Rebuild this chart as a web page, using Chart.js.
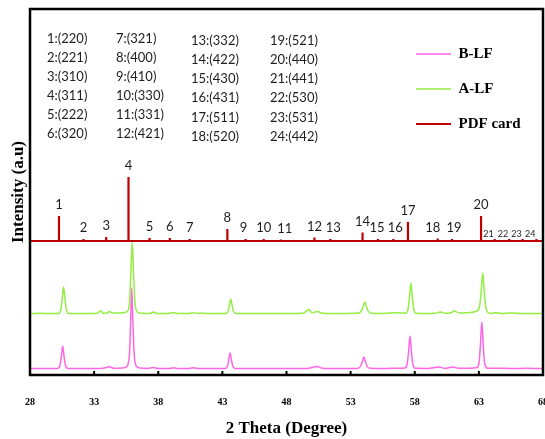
<!DOCTYPE html>
<html>
<head>
<meta charset="utf-8">
<title>XRD patterns</title>
<script src="https://cdn.jsdelivr.net/npm/chart.js@4.4.1/dist/chart.umd.min.js"></script>
<style>
  html, body { margin: 0; padding: 0; background: #fff; }
  #wrap { width: 545px; height: 439px; }
</style>
</head>
<body>
<div id="wrap"><canvas id="xrdChart" width="545" height="439"></canvas></div>
<script>
// 2 theta axis
const xTicks = [28, 33, 38, 43, 48, 53, 58, 63, 68];

// reference card lines
const pdfTheta = [30.26, 32.17, 33.94, 35.68, 37.32, 38.90, 40.45, 43.39, 44.81, 46.22, 47.56, 50.18,
                  51.42, 53.93, 55.13, 56.33, 57.47, 59.79, 60.90, 63.17, 64.23, 65.37, 66.41, 67.49];
const pdfInt = [25, 2, 4, 64, 3, 3, 2, 12, 2, 2, 1.5, 3.5, 2, 8.5, 2, 2, 19, 2.5, 2, 25, 2, 2, 2, 2];
const pdfHkl = ['220', '221', '310', '311', '222', '320', '321', '400', '410', '330', '331', '421',
                '332', '422', '430', '431', '511', '520', '521', '440', '441', '530', '531', '442'];

// A-LF pattern
const aTheta = [28.0, 28.8, 29.5, 30.22, 30.40, 30.52, 30.62, 30.72, 30.84, 31.02, 31.7, 32.6,
                33.25, 33.5, 33.72, 33.98, 34.2, 34.42, 35.0, 35.35, 35.58, 35.76, 35.87, 35.97,
                36.07, 36.18, 36.38, 36.7, 37.35, 37.62, 37.9, 38.8, 39.18, 39.5, 40.4, 40.8,
                41.05, 41.4, 41.8, 42.6, 43.27, 43.44, 43.55, 43.65, 43.75, 43.87, 44.05, 45.0,
                46.4, 47.8, 49.3, 49.75, 49.98, 50.4, 50.8, 52.0, 53.2, 53.65, 53.85, 54.0,
                54.1, 54.22, 54.36, 54.6, 55.5, 56.5, 56.9, 57.28, 57.48, 57.6, 57.7, 57.8,
                57.92, 58.12, 58.8, 59.6, 60.0, 60.4, 60.75, 61.1, 61.45, 62.0, 62.5, 62.8,
                63.0, 63.12, 63.2, 63.3, 63.4, 63.5, 63.7, 63.95, 64.3, 64.7, 65.5, 66.5,
                67.4, 68.0];
const aInt = [0.5, 0.8, 0.4, 0.6, 4, 16, 27, 16, 4, 0.6, 0.5, 0.4,
              0.7, 3.3, 0.8, 0.9, 2.5, 0.9, 1, 1.5, 2.5, 12, 42, 72,
              42, 12, 2, 0.8, 0.5, 2, 0.5, 0.4, 1.6, 0.5, 0.6, 1.2,
              0.6, 1.1, 0.5, 0.5, 0.6, 2.5, 9, 15, 9, 2.5, 0.6, 0.6,
              0.4, 0.5, 0.7, 4.5, 1.3, 2.5, 0.8, 0.5, 0.7, 1, 3.5, 8,
              12, 8, 3, 0.8, 0.6, 1.3, 1, 0.8, 5, 18, 31, 18,
              5, 0.8, 0.6, 0.8, 2, 0.8, 1, 3, 1, 1.2, 1.8, 2.8,
              5, 14, 26, 41, 26, 10, 1.5, 0.6, 1.2, 0.6, 1, 0.4,
              0.6, 0.5];

// B-LF pattern
const bTheta = [28.0, 29.2, 30.0, 30.17, 30.34, 30.45, 30.55, 30.65, 30.77, 30.95, 31.8, 33.0,
                33.7, 34.2, 34.5, 35.2, 35.5, 35.65, 35.76, 35.85, 35.93, 36.02, 36.12, 36.28,
                36.6, 37.2, 37.6, 38.0, 38.8, 39.2, 39.6, 40.3, 40.7, 41.2, 42.6, 43.22,
                43.39, 43.5, 43.6, 43.7, 43.82, 44.0, 45.5, 47.0, 48.5, 49.6, 50.4, 50.8,
                52.0, 53.3, 53.6, 53.78, 53.93, 54.03, 54.14, 54.28, 54.5, 55.8, 56.5, 57.0,
                57.22, 57.41, 57.53, 57.63, 57.73, 57.85, 58.05, 59.0, 59.9, 60.3, 61.0, 61.4,
                62.3, 62.8, 63.0, 63.13, 63.23, 63.33, 63.46, 63.7, 64.5, 65.5, 66.7, 68.0];
const bInt = [0.5, 0.6, 0.4, 0.6, 3.5, 13, 23, 13, 3.5, 0.6, 0.5, 0.6,
              0.8, 2.2, 0.8, 1, 2, 5, 16, 48, 81, 48, 16, 3,
              1, 0.6, 1.5, 0.5, 0.5, 1.2, 0.5, 0.5, 1.2, 0.5, 0.6, 0.6,
              2.5, 9.5, 16, 9.5, 2.5, 0.6, 0.6, 0.4, 0.6, 0.5, 2.5, 0.8,
              0.5, 0.6, 0.8, 3, 8, 12, 8, 2.5, 0.7, 0.5, 0.8, 0.8,
              0.9, 5, 19, 33, 19, 5, 0.7, 0.6, 2, 0.7, 2, 0.7,
              0.8, 1.2, 5, 26, 47, 26, 5, 0.8, 0.8, 0.5, 0.7, 0.5];

// vertical shift of each pattern
const shiftB = 6, shiftA = 61, shiftPdf = 134;

// horizontal nudge (px) for crowded line numbers
const numberNudge = { 8: -2, 10: 4, 12: 3, 14: -1, 15: 2, 17: -5, 18: 2 };

function toPoints(theta, inten, shift) {
  return theta.map((t, i) => ({ x: t, y: inten[i] + shift }));
}

// stick pattern: flat baseline with a spike at every card line
function stickPoints() {
  const pts = [{ x: xTicks[0], y: shiftPdf }];
  pdfTheta.forEach((t, i) => {
    pts.push({ x: t, y: shiftPdf }, { x: t, y: shiftPdf + pdfInt[i] }, { x: t, y: shiftPdf });
  });
  pts.push({ x: xTicks[xTicks.length - 1], y: shiftPdf });
  return pts;
}

const serifBold = { family: "'Liberation Serif', 'Times New Roman', serif", weight: 'bold' };

// frame, inner ticks, card line numbers and the hkl key
const decor = {
  id: 'decor',
  afterDatasetsDraw(chart) {
    const { ctx, chartArea: a, scales: { x, y } } = chart;
    ctx.save();
    ctx.strokeStyle = '#000';
    ctx.lineWidth = 2.5;
    ctx.strokeRect(a.left, a.top, a.right - a.left, a.bottom - a.top);

    ctx.lineWidth = 2;
    xTicks.forEach(v => {
      const px = x.getPixelForValue(v);
      ctx.beginPath();
      ctx.moveTo(px, a.bottom);
      ctx.lineTo(px, a.bottom - 4);
      ctx.stroke();
    });

    ctx.fillStyle = '#1e1e1e';
    ctx.textBaseline = 'middle';
    const base = y.getPixelForValue(shiftPdf);
    pdfTheta.forEach((t, i) => {
      const px = x.getPixelForValue(t) + (numberNudge[i] || 0);
      const top = y.getPixelForValue(shiftPdf + pdfInt[i]);
      if (i >= 20) {
        ctx.font = '9px Lato';
        ctx.textAlign = 'right';
        ctx.fillText(String(i + 1), px - 1, base - 7);
      } else {
        ctx.font = '13px Lato';
        ctx.textAlign = 'center';
        ctx.fillText(String(i + 1), px, Math.min(top - 11, base - 11));
      }
    });

    ctx.textAlign = 'left';
    ctx.font = '13px Lato';
    const colX = [47, 116, 191, 270];
    pdfHkl.forEach((hkl, i) => {
      const col = Math.floor(i / 6), row = i % 6;
      ctx.fillText(i + 1 + ':(' + hkl + ')', colX[col], (col < 2 ? 38.5 : 41) + row * 19.1);
    });
    ctx.restore();
  }
};

// move the legend to the upper right of the plot
const legendSpot = {
  id: 'legendSpot',
  afterLayout(chart) {
    const lg = chart.legend;
    lg.left = 396;
    lg.top = 26.5;
    lg.right = 545;
    lg.bottom = 220;
  }
};

const ctx = document.getElementById('xrdChart').getContext('2d');

new Chart(ctx, {
  type: 'line',
  data: {
    datasets: [
      {
        label: 'B-LF',
        data: toPoints(bTheta, bInt, shiftB),
        borderColor: '#ff66e6',
        borderWidth: 1.5,
        pointRadius: 0,
        cubicInterpolationMode: 'monotone',
        order: 3
      },
      {
        label: 'A-LF',
        data: toPoints(aTheta, aInt, shiftA),
        borderColor: '#92ee44',
        borderWidth: 1.5,
        pointRadius: 0,
        cubicInterpolationMode: 'monotone',
        order: 2
      },
      {
        label: 'PDF card',
        data: stickPoints(),
        borderColor: '#c00000',
        borderWidth: 2.2,
        borderJoinStyle: 'miter',
        pointRadius: 0,
        tension: 0,
        order: 1
      }
    ]
  },
  options: {
    responsive: false,
    animation: false,
    devicePixelRatio: 1,
    layout: { padding: { top: 9, right: 2, left: 0, bottom: 0 } },
    plugins: {
      legend: {
        position: 'chartArea',
        align: 'start',
        labels: {
          usePointStyle: true,
          pointStyle: 'line',
          pointStyleWidth: 35,
          padding: 20,
          color: '#000',
          font: { ...serifBold, size: 15 },
          sort: (a, b) => a.datasetIndex - b.datasetIndex
        }
      },
      tooltip: { enabled: false }
    },
    scales: {
      x: {
        type: 'linear',
        min: 28,
        max: 68,
        afterBuildTicks: scale => { scale.ticks = xTicks.map(v => ({ value: v })); },
        afterFit: scale => { scale.height = 64; scale.paddingLeft = 0; scale.paddingRight = 0; },
        grid: { display: false, drawTicks: false },
        border: { display: false },
        ticks: { padding: 21, maxRotation: 0, autoSkip: false, color: '#000', font: { ...serifBold, size: 10 } },
        title: { display: true, text: '2 Theta (Degree)', color: '#000', padding: { top: 0, bottom: 0 }, font: { ...serifBold, size: 17 } }
      },
      y: {
        min: 0,
        max: 366,
        afterFit: scale => { scale.width = 30; },
        grid: { display: false },
        border: { display: false },
        ticks: { display: false },
        title: { display: true, text: 'Intensity (a.u)', color: '#000', padding: { top: 8, bottom: 0 }, font: { ...serifBold, size: 17 } }
      }
    }
  },
  plugins: [decor, legendSpot]
});
</script>
</body>
</html>
